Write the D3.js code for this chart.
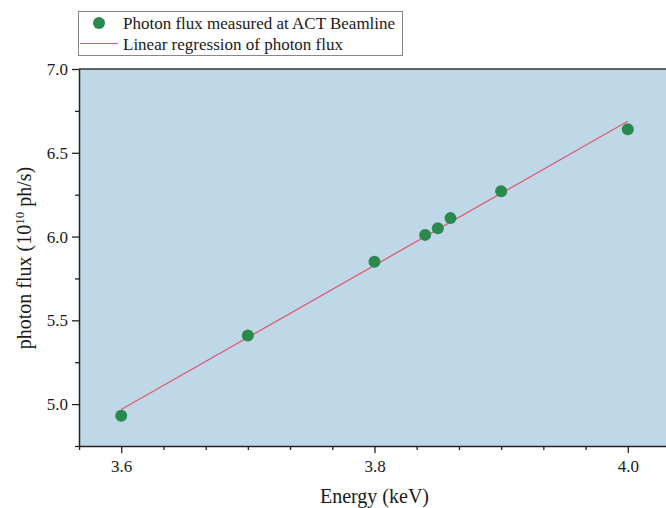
<!DOCTYPE html>
<html><head><meta charset="utf-8">
<script src="https://cdn.jsdelivr.net/npm/d3@7"></script>
<style>
html,body{margin:0;padding:0;background:#fff;overflow:hidden}
svg{display:block}
text{font-family:"Liberation Serif","DejaVu Serif",serif;fill:#1a1a1a}
</style></head>
<body>
<svg id="chart" width="666" height="508"></svg>
<script>
const energy = [3.6, 3.7, 3.8, 3.84, 3.85, 3.86, 3.9, 4.0];
const flux = [4.93, 5.41, 5.85, 6.01, 6.05, 6.11, 6.27, 6.64];
const xTickValues = [3.6, 3.8, 4.0];
const yTickValues = [5.0, 5.5, 6.0, 6.5, 7.0];
const legendLabels = ["Photon flux measured at ACT Beamline", "Linear regression of photon flux"];

const svg = d3.select("#chart");
const pL = 79, pT = 69, pB = 446, pR = 670;

const x = d3.scaleLinear().domain([3.6 - 1/30, 4.0 + 1/30]).range([pL, pR]);
const y = d3.scaleLinear().domain([4.75, 7.0]).range([pB, pT]);

// background
svg.append("rect").attr("x", pL).attr("y", pT)
  .attr("width", pR - pL).attr("height", pB - pT)
  .attr("fill", "#bfd8e8");

// regression
const mx = d3.mean(energy), my = d3.mean(flux);
const slope = d3.sum(energy, (e, i) => (e - mx) * (flux[i] - my)) / d3.sum(energy, e => (e - mx) ** 2);
const icpt = my - slope * mx;
const xr = d3.extent(energy);
svg.append("path")
  .datum(xr.map(e => [e, icpt + slope * e]))
  .attr("d", d3.line().x(d => x(d[0])).y(d => y(d[1])))
  .attr("stroke", "#e05a74").attr("stroke-width", 1.3).attr("fill", "none");

// points
svg.append("g").selectAll("circle").data(energy).join("circle")
  .attr("cx", d => x(d)).attr("cy", (d, i) => y(flux[i])).attr("r", 6)
  .attr("fill", "#2a8a4e");

// axes
const xMinor = d3.range(0, 15).map(i => +(3.6 - 1/30 + i / 30).toFixed(4)).filter(v => !xTickValues.some(t => Math.abs(t - v) < 1e-6));
const yMinor = [4.75, 5.25, 5.75, 6.25, 6.75];

svg.append("g").attr("transform", `translate(0,${pB})`)
  .call(d3.axisBottom(x).tickValues(xTickValues).tickFormat(d3.format(".1f")).tickSize(7).tickPadding(7).tickSizeOuter(0));
svg.append("g").attr("transform", `translate(0,${pB})`)
  .call(d3.axisBottom(x).tickValues(xMinor).tickFormat("").tickSize(4).tickSizeOuter(0))
  .select(".domain").remove();
svg.append("g").attr("transform", `translate(${pL},0)`)
  .call(d3.axisLeft(y).tickValues(yTickValues).tickFormat(d3.format(".1f")).tickSize(7).tickPadding(4).tickSizeOuter(0));
svg.append("g").attr("transform", `translate(${pL},0)`)
  .call(d3.axisLeft(y).tickValues(yMinor).tickFormat("").tickSize(4).tickSizeOuter(0))
  .select(".domain").remove();

svg.selectAll(".tick text").style("font-family", '"Liberation Serif",serif').style("font-size", "17px").attr("fill", "#1a1a1a");
svg.selectAll(".tick line").attr("stroke", "#222").attr("stroke-width", 1.3);
svg.selectAll(".domain").attr("stroke", "#222").attr("stroke-width", 1.5);

// top/right border
svg.append("line").attr("x1", pL).attr("x2", pR).attr("y1", pT).attr("y2", pT)
  .attr("stroke", "#333").attr("stroke-width", 1.5);
svg.append("line").attr("x1", pR).attr("x2", pR).attr("y1", pT).attr("y2", pB)
  .attr("stroke", "#333").attr("stroke-width", 1.5);

// axis titles
svg.append("text").attr("x", (x(3.6) + x(4.0)) / 2).attr("y", 503)
  .attr("text-anchor", "middle").style("font-size", "20px").text("Energy (keV)");
const yl = svg.append("text").attr("transform", "translate(31,258) rotate(-90)")
  .attr("text-anchor", "middle").style("font-size", "20px");
yl.append("tspan").text("photon flux (10");
yl.append("tspan").attr("dy", -7).style("font-size", "13px").text("10");
yl.append("tspan").attr("dy", 7).text(" ph/s)");

// legend
const lg = svg.append("g");
lg.append("rect").attr("x", 78.5).attr("y", 11.5).attr("width", 324).attr("height", 44)
  .attr("fill", "#fff").attr("stroke", "#888").attr("stroke-width", 1);
lg.append("circle").attr("cx", 99).attr("cy", 23).attr("r", 6).attr("fill", "#2a8a4e");
lg.append("line").attr("x1", 80).attr("x2", 118).attr("y1", 43.5).attr("y2", 43.5)
  .attr("stroke", "#e05a74").attr("stroke-width", 1.2);
lg.selectAll("text.lt").data(legendLabels).join("text").attr("class", "lt")
  .attr("x", 123).attr("y", (d, i) => 29 + i * 21)
  .style("font-size", "17px").text(d => d);
</script>
</body></html>
